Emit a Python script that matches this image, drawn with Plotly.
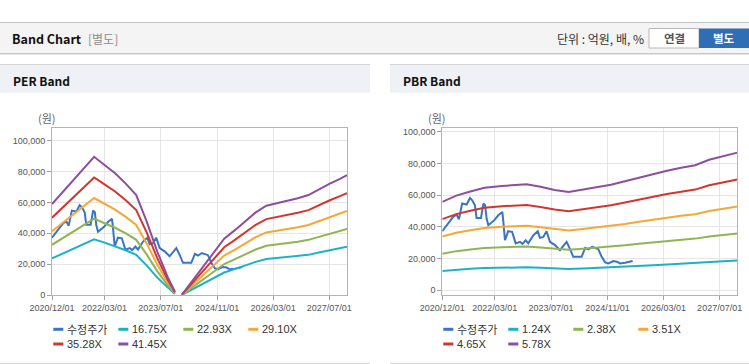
import plotly.graph_objects as go

W, H = 749, 364
FONT = "Liberation Sans, Arial, Noto Sans CJK KR, sans-serif"
KFONT = "Noto Sans CJK KR, Liberation Sans, sans-serif"

# ---------------- data ----------------
x_tick_vals = ["2020-12-01", "2022-03-01", "2023-07-01", "2024-11-01", "2026-03-01", "2027-07-01"]
x_tick_text = ["2020/12/01", "2022/03/01", "2023/07/01", "2024/11/01", "2026/03/01", "2027/07/01"]
y_tick_vals = [0, 20000, 40000, 60000, 80000, 100000]
y_tick_text = ["0", "20,000", "40,000", "60,000", "80,000", "100,000"]

price_dates = [
    "2020-12-01", "2021-01-22", "2021-03-05", "2021-04-04", "2021-04-24", "2021-05-22",
    "2021-06-30", "2021-07-29", "2021-08-17", "2021-09-10", "2021-09-24", "2021-11-01",
    "2021-11-22", "2021-12-07", "2021-12-20", "2022-01-04", "2022-02-25", "2022-03-31",
    "2022-05-05", "2022-05-14", "2022-05-28", "2022-06-25", "2022-07-29", "2022-08-29",
    "2022-10-05", "2022-10-26", "2022-11-24", "2022-12-16", "2023-01-29", "2023-03-08",
    "2023-03-27", "2023-04-25", "2023-05-23", "2023-06-22", "2023-08-04", "2023-09-16",
    "2023-10-16", "2023-11-13", "2023-12-13", "2024-01-10", "2024-02-18", "2024-03-22",
    "2024-04-22", "2024-05-19", "2024-06-22", "2024-07-22", "2024-08-13", "2024-09-12",
    "2024-10-12", "2024-11-09", "2024-12-22", "2025-01-21", "2025-02-18", "2025-04-03",
    "2025-05-16", "2025-06-07",
]
price_values = [
    37200, 42100, 46300, 47800, 44800, 54700,
    54100, 58200, 56800, 53600, 45600, 45600,
    54700, 53600, 45200, 41000, 44200, 47300,
    49400, 43100, 31500, 37200, 36800, 29500,
    30500, 29200, 31500, 29500, 34700, 37200,
    33000, 33600, 37200, 30500, 28400, 25200,
    28000, 30500, 25900, 21000, 21000, 21000,
    26700, 25700, 27300, 26300, 25900, 21000,
    17500, 16800, 18300, 17900, 16800, 17200,
    17900, 18300,
]

per_dates = [
    "2020-12-01", "2021-03-01", "2021-06-01", "2021-09-01", "2021-12-01", "2022-03-01",
    "2022-06-01", "2022-09-01", "2022-12-01", "2023-03-01", "2023-06-01", "2023-09-01",
    "2023-11-01", "2023-12-01", "2024-01-01", "2024-04-01", "2024-07-01", "2024-10-01",
    "2025-01-01", "2025-04-01", "2025-07-01", "2025-10-01", "2026-01-01", "2026-04-01",
    "2026-07-01", "2026-10-01", "2027-01-01", "2027-04-01", "2027-07-01", "2027-10-01",
    "2027-12-01",
]
per_1675 = [23800, 26900, 30000, 33100, 36100, 34000, 31800, 29100, 26100, 19300, 11400, 4700,
            900, None, 200, 3800, 7500, 11200, 14700, 16900, 19300, 21600, 23400, 24000,
            24600, 25300, 26100, 27600, 29100, 30400, 31400]
per_2293 = [32600, 36800, 41000, 45300, 49500, 46500, 43600, 39900, 35800, 26400, 15600, 6400,
            1300, None, 200, 5300, 10300, 15300, 20200, 23200, 26400, 29600, 32000, 32800,
            33700, 34600, 35800, 37800, 39800, 41600, 42900]
per_2910 = [41400, 46700, 52100, 57500, 62800, 59100, 55300, 50600, 45400, 33500, 19800, 8100,
            1600, None, 300, 6700, 13000, 19400, 25600, 29400, 33500, 37500, 40600, 41600,
            42800, 43900, 45400, 48000, 50500, 52800, 54500]
per_3528 = [50100, 56600, 63200, 69700, 76100, 71600, 67000, 61400, 55000, 40600, 24000, 9900,
            1900, None, 400, 8100, 15800, 23500, 31000, 35600, 40600, 45500, 49200, 50500,
            51900, 53300, 55000, 58200, 61200, 64000, 66000]
per_4145 = [58900, 66500, 74200, 81900, 89400, 84100, 78800, 72100, 64700, 47700, 28200, 11600,
            2300, None, 400, 9500, 18600, 27600, 36500, 41900, 47700, 53500, 57800, 59300,
            60900, 62600, 64700, 68400, 71900, 75200, 77600]
per_names = ["16.75X", "22.93X", "29.10X", "35.28X", "41.45X"]

pbr_dates = [
    "2020-12-01", "2021-04-01", "2021-08-01", "2021-12-01", "2022-05-01", "2022-12-01",
    "2023-04-01", "2023-08-01", "2023-12-01", "2024-04-01", "2024-08-01", "2024-12-01",
    "2025-04-01", "2025-08-01", "2025-12-01", "2026-04-01", "2026-08-01", "2026-12-01",
    "2027-04-01", "2027-08-01", "2027-12-01",
]
pbr_124 = [11950, 12810, 13380, 13880, 14120, 14350, 14010, 13580, 13290, 13620, 13970, 14280,
           14760, 15250, 15720, 16180, 16590, 16940, 17670, 18170, 18650]
pbr_238 = [22940, 24590, 25680, 26630, 27110, 27540, 26890, 26060, 25510, 26130, 26820, 27420,
           28320, 29270, 30180, 31060, 31840, 32510, 33920, 34870, 35800]
pbr_351 = [33840, 36260, 37870, 39280, 39980, 40610, 39660, 38430, 37630, 38540, 39560, 40440,
           41770, 43170, 44510, 45810, 46960, 47950, 50020, 51420, 52790]
pbr_465 = [44830, 48030, 50170, 52030, 52960, 53800, 52550, 50920, 49850, 51060, 52410, 53570,
           55340, 57200, 58960, 60680, 62220, 63520, 66260, 68120, 69940]
pbr_578 = [55720, 59710, 62370, 64680, 65830, 66870, 65310, 63290, 61960, 63460, 65140, 66590,
           68780, 71090, 73290, 75430, 77340, 78950, 82370, 84680, 86930]
pbr_names = ["1.24X", "2.38X", "3.51X", "4.65X", "5.78X"]

price_name = "수정주가"
band_colors = ["#1cb2c6", "#8db651", "#f5a738", "#d2362c", "#8e4e9e"]
price_color = "#3a74c4"

# ---------------- figure ----------------
fig = go.Figure()

def px(x):
    return x / W

def py(y):
    return 1 - y / H

fig.add_trace(go.Scatter(x=price_dates, y=price_values, name=price_name, mode="lines",
                         line=dict(color=price_color, width=2), xaxis="x", yaxis="y",
                         showlegend=False, hoverinfo="skip"))
for nm, vals, col in zip(per_names, [per_1675, per_2293, per_2910, per_3528, per_4145], band_colors):
    fig.add_trace(go.Scatter(x=per_dates, y=vals, name=nm, mode="lines",
                             line=dict(color=col, width=2), xaxis="x", yaxis="y",
                             showlegend=False, connectgaps=False, hoverinfo="skip"))

fig.add_trace(go.Scatter(x=price_dates, y=price_values, name=price_name, mode="lines",
                         line=dict(color=price_color, width=2), xaxis="x2", yaxis="y2",
                         showlegend=False, hoverinfo="skip"))
for nm, vals, col in zip(pbr_names, [pbr_124, pbr_238, pbr_351, pbr_465, pbr_578], band_colors):
    fig.add_trace(go.Scatter(x=pbr_dates, y=vals, name=nm, mode="lines",
                             line=dict(color=col, width=2), xaxis="x2", yaxis="y2",
                             showlegend=False, hoverinfo="skip"))

axis_common = dict(showgrid=True, gridcolor="#e6e6e6", gridwidth=1, showline=True,
                   linecolor="#b4b4b4", linewidth=1, mirror=True, ticks="outside",
                   ticklen=4, tickcolor="#a0a0a0", zeroline=False, automargin=False,
                   tickfont=dict(family=FONT, size=9, color="#555555"))

fig.update_layout(
    width=W, height=H, margin=dict(l=0, r=0, t=0, b=0, pad=0, autoexpand=False),
    paper_bgcolor="white", plot_bgcolor="white",
    xaxis=dict(domain=[px(52), px(347)], type="date", range=["2020-12-01", "2027-12-01"],
               tickvals=x_tick_vals, ticktext=x_tick_text, anchor="y", **axis_common),
    yaxis=dict(domain=[py(295.3), py(128)], range=[0, 108000], tickvals=y_tick_vals,
               ticktext=y_tick_text, anchor="x", **axis_common),
    xaxis2=dict(domain=[px(442.3), px(737.3)], type="date", range=["2020-12-01", "2027-12-01"],
                tickvals=x_tick_vals, ticktext=x_tick_text, anchor="y2", **axis_common),
    yaxis2=dict(domain=[py(295.3), py(128)], range=[-3350, 102500], tickvals=y_tick_vals,
                ticktext=y_tick_text, anchor="x2", **axis_common),
    showlegend=False,
)

shapes = []
annotations = []

def rect(x0, y0, x1, y1, fill, line=None, layer="below"):
    shapes.append(dict(type="rect", xref="paper", yref="paper", x0=px(x0), x1=px(x1),
                       y0=py(y1), y1=py(y0), fillcolor=fill, layer=layer,
                       line=dict(width=1 if line else 0, color=line or fill)))

def hline(x0, x1, y, color, width=1):
    shapes.append(dict(type="line", xref="paper", yref="paper", x0=px(x0), x1=px(x1),
                       y0=py(y), y1=py(y), line=dict(color=color, width=width), layer="below"))

def text(x, y, s, size, color, bold=False, anchor="left", family=FONT):
    annotations.append(dict(x=px(x), y=py(y), xref="paper", yref="paper", text=s,
                            showarrow=False, xanchor=anchor, yanchor="middle",
                            font=dict(size=size, color=color, family=family,
                                      weight="bold" if bold else "normal")))

# top header band
rect(0, 22, W, 53, "#f4f4f4")
hline(0, W, 22.5, "#c4c4c4")
hline(0, W, 53.5, "#c8c8c8", 1)
hline(0, W, 54.5, "#e4e4e4", 1)
text(10, 38.7, "Band Chart", 12.5, "#111111", bold=True, family=KFONT)
text(86, 38.7, "[별도]", 12, "#8a8a8a", family=KFONT)
text(646, 38.7, "단위 : 억원, 배, %", 12, "#333333", anchor="right", family=KFONT)
shapes.append(dict(type="rect", xref="paper", yref="paper", x0=px(649), x1=px(699),
                   y0=py(48), y1=py(28.5), fillcolor="white", layer="below",
                   line=dict(color="#b8b8b8", width=1)))
rect(699, 28.5, W, 48, "#2f6db4")
text(674, 38.5, "연결", 11.5, "#555555", bold=True, anchor="center", family=KFONT)
text(724, 38.5, "별도", 11.5, "#ffffff", bold=True, anchor="center", family=KFONT)

# panel headers
for (x0, x1, title) in [(0, 370, "PER Band"), (390, W, "PBR Band")]:
    rect(x0, 64.5, x1, 92.7, "#eef1f5")
    hline(x0, x1, 64.5, "#d6d6d6")
    hline(x0, x1, 363.3, "#cfcfcf")
    text(x0 + 11, 80.5, title, 12, "#111111", bold=True, family=KFONT)

text(36, 118.3, "(원)", 11, "#666666", family=KFONT)
text(426, 118.3, "(원)", 11, "#666666", family=KFONT)

# legends (drawn swatches + labels)
def legend(x_left, entries):
    for i, (nm, col) in enumerate(entries):
        row, colpos = divmod(i, 4)
        yy = 329.3 + row * 14.7
        xx = x_left + colpos * 65
        shapes.append(dict(type="line", xref="paper", yref="paper", x0=px(xx), x1=px(xx + 10),
                           y0=py(yy), y1=py(yy), line=dict(color=col, width=3)))
        text(xx + 11.5, yy, nm, 11, "#333333", family=FONT if nm != price_name else KFONT)

legend(53.3, [(price_name, price_color)] + list(zip(per_names, band_colors)))
legend(443.3, [(price_name, price_color)] + list(zip(pbr_names, band_colors)))

fig.update_layout(shapes=shapes, annotations=annotations)
fig.write_html("out.html", config={"displayModeBar": False},
               post_script="document.body.style.margin='0';document.body.style.padding='0';"
                           "document.body.style.overflow='hidden';")
